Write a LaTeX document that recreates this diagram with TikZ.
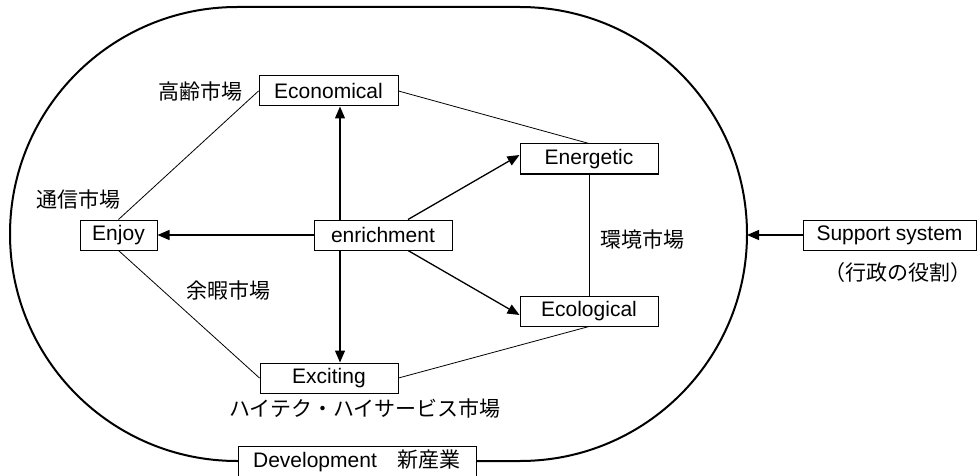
\documentclass[tikz,border=0pt]{standalone}
\usepackage{fontspec}
\setmainfont{Liberation Sans}
\newfontfamily\jp{Noto Sans CJK JP}
\usetikzlibrary{arrows.meta}

\begin{document}
\begin{tikzpicture}[x=1pt,y=-1pt,
  every node/.style={font=\fontsize{21}{25}\selectfont},
  box/.style={draw,fill=white,line width=1pt,minimum width=138pt,minimum height=30pt,inner sep=0pt},
  arr/.style={line width=1.3pt,-{Triangle[length=12pt,width=10pt]}},
  thin/.style={line width=0.8pt},
  lbl/.style={font=\fontsize{21}{25}\selectfont\jp}]

  \useasboundingbox (0,0) rectangle (980,476);

  % ====================================================
  % OUTER FIELD
  % ====================================================
  \draw[line width=2pt,rounded corners=227pt] (10,7) rectangle (747,461);
  \coordinate (rim) at (747,235);

  % ====================================================
  % BOXES
  % ====================================================
  \node[box] (enrich) at (383,235) {enrichment};
  \node[box,minimum width=139pt] (econ) at (328.5,91) {Economical};
  \node[box] (energ) at (589,159) {Energetic};
  \node[box] (ecol) at (589,311) {Ecological};
  \node[box] (excit) at (329,378) {Exciting};
  \node[box,minimum width=77pt] (enjoy) at (118.5,235) {Enjoy};
  \node[box,minimum width=173pt] (support) at (889.5,235) {Support system};
  \node[box,minimum width=238pt] (devel) at (357,461) {Development{\jp 　新産業}};

  % ====================================================
  % MARKET LABELS
  % ====================================================
  \node[lbl] (koreimkt) at (200,92) {高齢市場};
  \node[lbl] (tsushinmkt) at (78,200) {通信市場};
  \node[lbl] (yokamkt) at (228,291) {余暇市場};
  \node[lbl] (kankyomkt) at (642,240) {環境市場};
  \node[lbl] (hitechmkt) at (365,409) {ハイテク・ハイサービス市場};
  \node[lbl] (gyosei) at (898,273) {（行政の役割）};

  % ====================================================
  % ARROWS FROM enrichment
  % ====================================================
  \coordinate (vx) at (340,0);
  \draw[arr] (enrich.north -| vx) -- (econ.south -| vx);
  \draw[arr] (enrich.south -| vx) -- (excit.north -| vx);
  \draw[arr] (enrich.west) -- (enjoy.east);
  \draw[arr] ([xshift=25pt]enrich.north) -- ([yshift=4pt]energ.west);
  \draw[arr] ([xshift=25pt]enrich.south) -- ([yshift=-4pt]ecol.west);
  \draw[arr] (support.west) -- (rim);

  % ====================================================
  % THIN LINKS
  % ====================================================
  \draw[thin] (econ.east) -- (energ.north);
  \draw[thin] (energ.south) -- (ecol.north);
  \draw[thin] (excit.east) -- (ecol.south);
  \draw[thin] (enjoy.north) -- (econ.west);
  \draw[thin] (enjoy.south) -- (excit.west);
\end{tikzpicture}
\end{document}
